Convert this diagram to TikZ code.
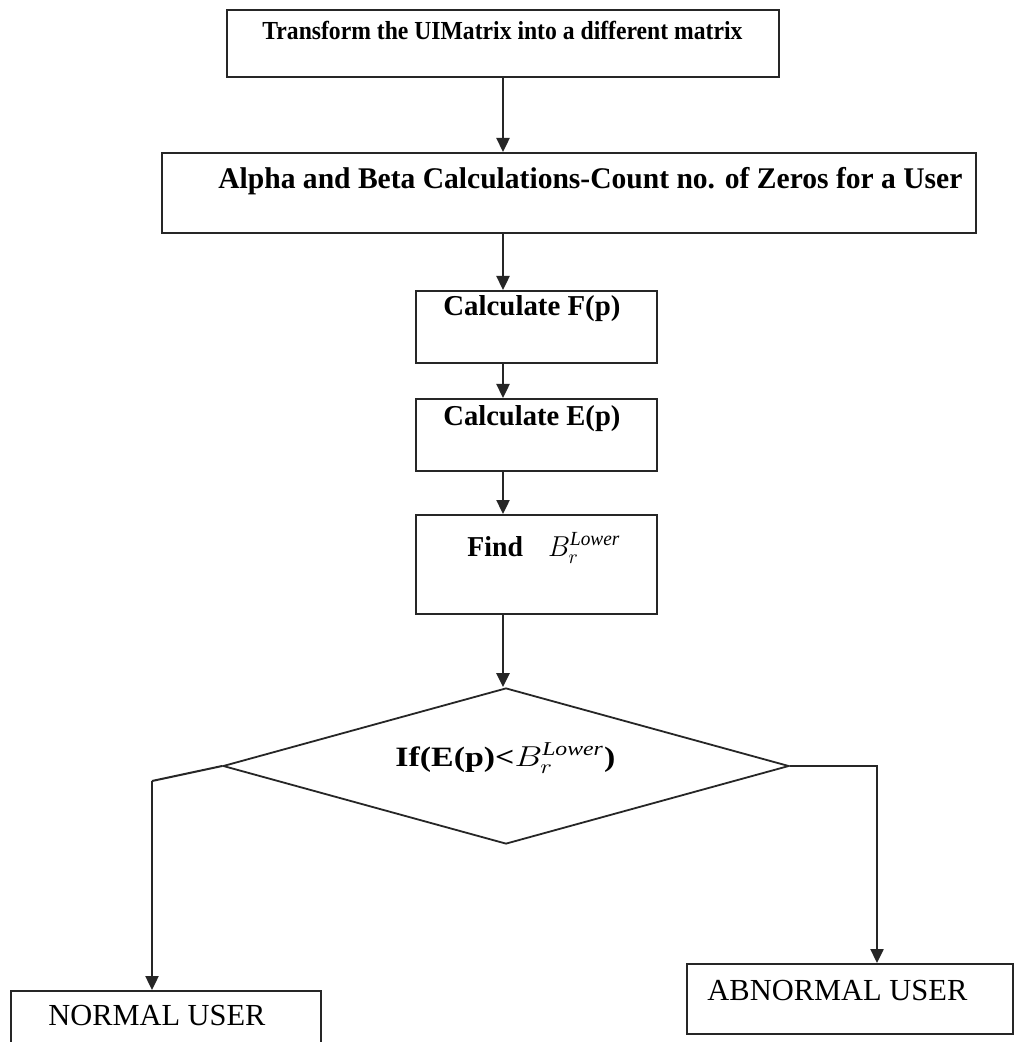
\documentclass[tikz,border=0pt]{standalone}
\usepackage{fontspec}
\setmainfont{Liberation Serif}
\usepackage{graphicx}
\usetikzlibrary{arrows.meta,shapes.geometric}
\newcommand{\fw}[2]{\resizebox{#1}{\height}{#2}}
\begin{document}
\begin{tikzpicture}[x=0.5pt,y=-0.5pt,
  box/.style={draw=black!85, line width=1pt, rectangle, inner sep=0pt, anchor=north west},
  lbl/.style={inner sep=0pt, anchor=base west},
  arr/.style={draw=black!85, line width=1.2pt, -{Triangle[width=6.5pt,length=7pt]}},
  ln/.style={draw=black!85, line width=1pt}]
\clip (0,0) rectangle (1019,1042);
\fill[white] (0,0) rectangle (1019,1042);
\coordinate (cx) at (503,0);

% boxes
\node[box, minimum width=276pt, minimum height=33.5pt] (b1) at (226,9) {};
\node[box, minimum width=407pt, minimum height=40pt] (b2) at (161,152) {};
\node[box, minimum width=120.5pt, minimum height=36pt] (b3) at (415,290) {};
\node[box, minimum width=120.5pt, minimum height=36pt] (b4) at (415,398) {};
\node[box, minimum width=120.5pt, minimum height=49.5pt] (b5) at (415,514) {};
\node[draw=black!85, line width=0.9pt, diamond, inner sep=0pt, minimum width=283pt, minimum height=78pt] (d) at (506,766) {};
\node[box, minimum width=155pt, minimum height=40pt] (nu) at (10,990) {};
\node[box, minimum width=163pt, minimum height=35pt] (au) at (686,963) {};

% texts
\node[lbl, font=\bfseries\fontsize{13pt}{15pt}\selectfont] (t1) at (262,40) {\fw{240pt}{Transform the UIMatrix into a different matrix}};
\node[lbl, font=\bfseries\fontsize{15pt}{17pt}\selectfont] (t2) at (218,189) {\fw{372pt}{Alpha and Beta Calculations-Count no. of Zeros for a User}};
\node[lbl, font=\bfseries\fontsize{14.4pt}{16pt}\selectfont] (t3) at (443,316) {\fw{88.5pt}{Calculate F(p)}};
\node[lbl, font=\bfseries\fontsize{14.4pt}{16pt}\selectfont] (t4) at (443,426) {\fw{88.5pt}{Calculate E(p)}};
\node[lbl, font=\bfseries\fontsize{14.4pt}{16pt}\selectfont] (t5) at (467,556) {\fw{76.5pt}{Find\hspace{0.9em}$B_r^{\mathit{Lower}}$}};
\node[lbl, font=\bfseries\fontsize{14pt}{16pt}\selectfont] (t6) at (395,766) {\fw{110pt}{If(E(p)<$B_r^{\mathit{Lower}}$)}};
\node[lbl, font=\fontsize{15.3pt}{17pt}\selectfont] (t7) at (48,1025) {\fw{108.5pt}{NORMAL USER}};
\node[lbl, font=\fontsize{15.3pt}{17pt}\selectfont] (t8) at (707,1000) {\fw{130pt}{ABNORMAL USER}};

% connectors
\draw[arr] (b1.south -| cx) -- (b2.north -| cx);
\draw[arr] (b2.south -| cx) -- (b3.north -| cx);
\draw[arr] (b3.south -| cx) -- (b4.north -| cx);
\draw[arr] (b4.south -| cx) -- (b5.north -| cx);
\draw[arr] (b5.south -| cx) -- (d.north -| cx);
\coordinate (lc) at (152,781);
\coordinate (rc) at (877,766);
\draw[ln] (d.west) -- (lc);
\draw[arr] (lc) -- (nu.north -| lc);
\draw[arr] (d.east) -- (rc) -- (au.north -| rc);
\end{tikzpicture}
\end{document}
